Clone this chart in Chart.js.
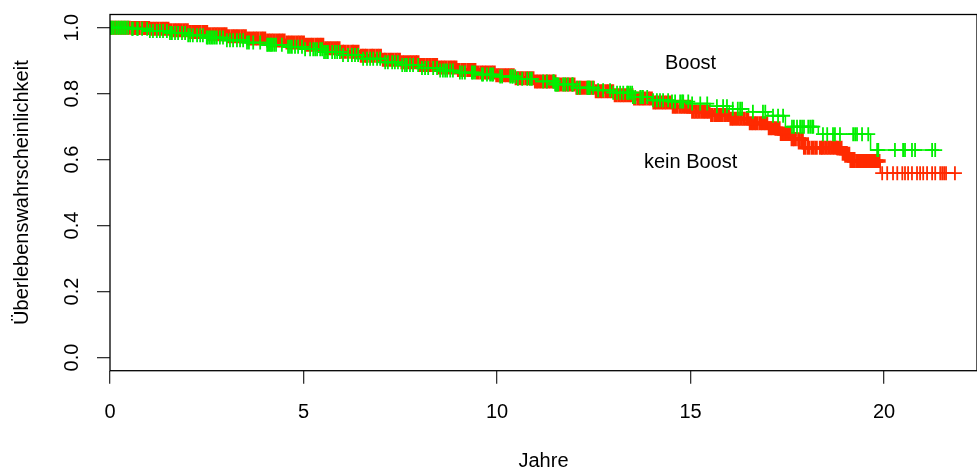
<!DOCTYPE html>
<html lang="de">
<head>
<meta charset="UTF-8">
<script src="https://cdn.jsdelivr.net/npm/chart.js"></script>
<title>Überlebenskurven</title>
<style>
  body { margin: 0; background: #fff; }
  #wrap { width: 977px; height: 470px; }
</style>
</head>
<body>
<div id="wrap"><canvas id="kmChart" width="977" height="470"></canvas></div>
<script>
// Kaplan-Meier Stufen: Zeit (Jahre) und Überlebenswahrscheinlichkeit
var boostZeiten = [0, 0.5, 1, 1.5, 2, 2.5, 3, 3.5, 4, 4.5, 5, 5.5, 6, 6.5, 7, 7.5, 8, 8.5, 9, 9.5, 10, 10.5, 11, 11.5, 12, 12.5, 13, 13.5, 14, 14.5, 15, 15.5, 16, 16.5, 17, 17.45, 18.3, 19.65, 21.32]
var boostWerte = [1, 0.997, 0.99, 0.984, 0.977, 0.97, 0.962, 0.955, 0.948, 0.942, 0.935, 0.926, 0.917, 0.906, 0.895, 0.887, 0.878, 0.87, 0.864, 0.858, 0.852, 0.845, 0.837, 0.828, 0.818, 0.81, 0.803, 0.79, 0.78, 0.776, 0.77, 0.762, 0.754, 0.745, 0.733, 0.70, 0.677, 0.629, 0.629]

var keinBoostZeiten = [0, 0.5, 1, 1.5, 2, 2.5, 3, 3.5, 4, 4.5, 5, 5.5, 6, 6.5, 7, 7.5, 8, 8.5, 9, 9.5, 10, 10.5, 11, 11.5, 12, 12.5, 13, 13.5, 14, 14.5, 15, 15.5, 16, 16.5, 17, 17.3, 17.6, 17.9, 18.9, 19.1, 19.9, 21.83]
var keinBoostWerte = [1, 0.999, 0.997, 0.992, 0.987, 0.98, 0.974, 0.967, 0.961, 0.955, 0.948, 0.938, 0.927, 0.915, 0.903, 0.895, 0.887, 0.879, 0.872, 0.864, 0.856, 0.847, 0.837, 0.828, 0.818, 0.807, 0.795, 0.785, 0.773, 0.76, 0.745, 0.735, 0.724, 0.71, 0.695, 0.678, 0.662, 0.636, 0.618, 0.596, 0.559, 0.559]

// zensierte Beobachtungen (Jahre)
var boostZensiert = [0.02, 0.05, 0.1, 0.16, 0.21, 0.26, 0.31, 0.36, 0.41, 0.47, 0.57, 0.59, 0.7, 0.72, 0.83, 0.96,
  1.03, 1.11, 1.21, 1.29, 1.37, 1.47, 1.55, 1.6, 1.68, 1.76, 1.86, 1.94, 2.02, 2.07, 2.14, 2.25, 2.33, 2.4,
  2.5, 2.53, 2.58, 2.62, 2.66, 2.71, 2.76, 2.84, 2.92, 3.02, 3.1, 3.18, 3.28, 3.36, 3.44, 3.54, 3.59, 3.7, 3.88,
  4.06, 4.09, 4.13, 4.16, 4.19, 4.24, 4.29, 4.44, 4.6, 4.65, 4.7, 4.78, 4.86, 4.96, 5.04, 5.17, 5.25, 5.3, 5.35,
  5.43, 5.48, 5.53, 5.58, 5.63, 5.74, 5.81, 5.87, 5.94, 6.02, 6.15, 6.25, 6.33, 6.41, 6.54, 6.64, 6.72, 6.8, 6.9,
  6.98, 7.11, 7.18, 7.29, 7.36, 7.44, 7.55, 7.62, 7.67, 7.75, 7.83, 7.96, 8.06, 8.14, 8.22, 8.35, 8.45, 8.53, 8.6,
  8.66, 8.71, 8.79, 8.86, 9.04, 9.1, 9.17, 9.35, 9.38, 9.43, 9.61, 9.64, 9.74, 9.82, 9.87, 9.9, 10.08, 10.13,
  10.34, 10.39, 10.41, 10.47, 10.54, 10.65, 10.78, 10.85, 10.9, 11.19, 11.29, 11.45, 11.47, 11.5, 11.52, 11.55,
  11.58, 11.71, 11.76, 11.83, 11.94, 11.96, 12.07, 12.14, 12.33, 12.35, 12.38, 12.4, 12.48, 12.61, 12.74, 12.92,
  13.0, 13.1, 13.18, 13.26, 13.36, 13.39, 13.44, 13.49, 13.51, 13.57, 13.7, 13.75, 13.77, 13.88, 14.03, 14.13,
  14.21, 14.29, 14.42, 14.52, 14.6, 14.73, 14.78, 14.81, 14.94, 15.04, 15.25, 15.43, 15.68, 15.84, 15.94, 16.09,
  16.22, 16.28, 16.33, 16.61, 16.87, 16.93, 17.13, 17.26, 17.39, 17.62, 17.67, 17.75, 17.83, 17.88, 17.93, 18.04,
  18.09, 18.14, 18.17, 18.42, 18.53, 18.68, 18.73, 18.86, 19.2, 19.25, 19.3, 19.43, 19.59, 19.82, 19.85, 20.28,
  20.49, 20.54, 20.72, 20.8, 21.24, 21.32]

var keinBoostZensiert = [0.02, 0.1, 0.17, 0.25, 0.33, 0.41, 0.49, 0.58, 0.66, 0.74, 0.83, 0.91,
  0.99, 1.08, 1.16, 1.24, 1.33, 1.41, 1.49, 1.57, 1.66, 1.74, 1.82, 1.91,
  1.99, 2.07, 2.16, 2.24, 2.32, 2.41, 2.49, 2.57, 2.66, 2.74, 2.82, 2.91,
  2.99, 3.07, 3.16, 3.24, 3.32, 3.41, 3.49, 3.57, 3.66, 3.74, 3.82, 3.91,
  3.99, 4.08, 4.16, 4.24, 4.33, 4.41, 4.49, 4.58, 4.66, 4.74, 4.83, 4.91,
  4.99, 5.07, 5.16, 5.24, 5.33, 5.41, 5.49, 5.58, 5.66, 5.74, 5.83, 5.91,
  6.0, 6.06, 6.15, 6.25, 6.31, 6.4, 6.5, 6.57, 6.64, 6.74, 6.81, 6.9,
  6.98, 7.07, 7.13, 7.22, 7.3, 7.39, 7.47, 7.55, 7.63, 7.72, 7.8, 7.88, 7.95,
  8.03, 8.1, 8.19, 8.27, 8.36, 8.43, 8.52, 8.6, 8.68, 8.77, 8.85, 8.93,
  9.01, 9.1, 9.17, 9.26, 9.34, 9.42, 9.5, 9.59, 9.67, 9.75, 9.84, 9.92,
  10.0, 10.08, 10.17, 10.25, 10.33, 10.41, 10.5, 10.58, 10.66, 10.75, 10.83, 10.92,
  11.0, 11.07, 11.15, 11.24, 11.32, 11.4, 11.49, 11.57, 11.65, 11.74, 11.82, 11.9,
  11.98, 12.07, 12.15, 12.23, 12.32, 12.4, 12.48, 12.57, 12.65, 12.73, 12.82, 12.9,
  12.98, 13.06, 13.15, 13.23, 13.31, 13.4, 13.48, 13.56, 13.65, 13.73, 13.81, 13.9,
  13.98, 14.06, 14.14, 14.23, 14.31, 14.39, 14.48, 14.56, 14.64, 14.73, 14.81, 14.89,
  14.97, 15.06, 15.14, 15.22, 15.31, 15.39, 15.47, 15.55, 15.64, 15.72, 15.8, 15.89,
  15.97, 16.05, 16.13, 16.22, 16.3, 16.38, 16.47, 16.55, 16.63, 16.71, 16.8, 16.88,
  16.96, 17.04, 17.12, 17.2, 17.28, 17.35, 17.42, 17.5, 17.56, 17.63, 17.7, 17.8, 17.88, 17.95,
  18.05, 18.15, 18.24, 18.36, 18.42, 18.5, 18.58, 18.66, 18.74, 18.8, 18.88, 18.95,
  19.02, 19.08, 19.15, 19.22, 19.3, 19.37, 19.44, 19.52, 19.6, 19.66, 19.73, 19.8, 19.86,
  19.95, 20.08, 20.23, 20.34, 20.47, 20.54, 20.62, 20.72, 20.85, 20.93, 21.01, 21.11, 21.24, 21.32,
  21.45, 21.5, 21.55, 21.6, 21.83]

var xTicks = [0, 5, 10, 15, 20]
var yTicks = [0, 0.2, 0.4, 0.6, 0.8, 1.0]

var beschriftungen = ["Boost", "kein Boost"]
var beschriftungX = [15, 15]
var beschriftungY = [0.89, 0.59]

var gruen = "#00F000"
var rot = "#FF2A00"
var schrift = '"Liberation Sans", Arial, sans-serif'

// Wert der Stufenfunktion zum Zeitpunkt t
function stufenWert(zeiten, werte, t) {
  var w = werte[0]
  for (var i = 0; i < zeiten.length; i++) {
    if (zeiten[i] <= t) w = werte[i]
  }
  return w
}

function linie(zeiten, werte) {
  return zeiten.map(function (t, i) { return { x: t, y: werte[i] } })
}

function marken(zensiert, zeiten, werte) {
  return zensiert.map(function (t) { return { x: t, y: stufenWert(zeiten, werte, t) } })
}

// Rahmen und Beschriftungen im Plot
const extras = {
  id: "extras",
  afterDatasetsDraw(chart) {
    const ctx = chart.ctx
    const a = chart.chartArea
    const xs = chart.scales.x
    const ys = chart.scales.y
    ctx.save()
    ctx.strokeStyle = "#000"
    ctx.lineWidth = 1.3
    ctx.strokeRect(a.left, a.top, a.right - a.left, a.bottom - a.top)
    ctx.fillStyle = "#000"
    ctx.font = "20px " + schrift
    ctx.textAlign = "center"
    ctx.textBaseline = "middle"
    for (var i = 0; i < beschriftungen.length; i++) {
      ctx.fillText(beschriftungen[i], xs.getPixelForValue(beschriftungX[i]), ys.getPixelForValue(beschriftungY[i]))
    }
    ctx.restore()
  }
}

const ctx = document.getElementById("kmChart")
const kmChart = new Chart(ctx, {
  type: "scatter",
  data: {
    datasets: [
      {
        type: "line",
        label: "Boost",
        data: linie(boostZeiten, boostWerte),
        borderColor: gruen,
        borderWidth: 1.5,
        stepped: true,
        pointRadius: 0,
        fill: false
      },
      {
        label: "Boost zensiert",
        data: marken(boostZensiert, boostZeiten, boostWerte),
        pointStyle: "cross",
        pointRadius: 7,
        pointBorderColor: gruen,
        borderColor: gruen,
        pointBorderWidth: 1.8,
        showLine: false
      },
      {
        type: "line",
        label: "kein Boost",
        data: linie(keinBoostZeiten, keinBoostWerte),
        borderColor: rot,
        borderWidth: 1.5,
        stepped: true,
        pointRadius: 0,
        fill: false
      },
      {
        label: "kein Boost zensiert",
        data: marken(keinBoostZensiert, keinBoostZeiten, keinBoostWerte),
        pointStyle: "cross",
        pointRadius: 7,
        pointBorderColor: rot,
        borderColor: rot,
        // dichter Bereich als geschlossenes Band, spaeter einzelne Striche
        pointBorderWidth: function (c) { return c.raw && c.raw.x < 19.9 ? 3.6 : 1.8 },
        showLine: false
      }
    ]
  },
  options: {
    responsive: false,
    animation: false,
    events: [],
    layout: { autoPadding: false, padding: { top: 14.5, right: 0, left: 0, bottom: 0 } },
    plugins: { legend: { display: false }, tooltip: { enabled: false } },
    scales: {
      x: {
        type: "linear",
        min: 0,
        max: 22.4,
        afterBuildTicks: function (s) { s.ticks = xTicks.map(function (v) { return { value: v } }) },
        afterFit: function (s) { s.height = 99.3; s.paddingLeft = 0; s.paddingRight = 0 },
        border: { display: false },
        grid: { drawOnChartArea: false, drawTicks: true, tickLength: 13, color: "#333", lineWidth: 1.3 },
        ticks: { color: "#000", font: { family: schrift, size: 20 }, padding: 17, maxRotation: 0,
          callback: function (v) { return String(v) } },
        title: { display: true, text: "Jahre", color: "#000", font: { family: schrift, size: 20 }, padding: { top: 0, bottom: -3 } }
      },
      y: {
        min: -0.04,
        max: 1.04,
        afterBuildTicks: function (s) { s.ticks = yTicks.map(function (v) { return { value: v } }) },
        afterFit: function (s) { s.width = 110; s.paddingTop = 0; s.paddingBottom = 0 },
        border: { display: false },
        grid: { drawOnChartArea: false, drawTicks: true, tickLength: 13, color: "#333", lineWidth: 1.3 },
        ticks: { color: "#000", font: { family: schrift, size: 20 }, padding: 11, minRotation: 90, maxRotation: 90,
          crossAlign: "center", callback: function (v) { return Number(v).toFixed(1) } },
        title: { display: true, text: "Überlebenswahrscheinlichkeit", color: "#000", font: { family: schrift, size: 20 },
          padding: { top: 10, bottom: 0 } }
      }
    }
  },
  plugins: [extras]
})
</script>
</body>
</html>
